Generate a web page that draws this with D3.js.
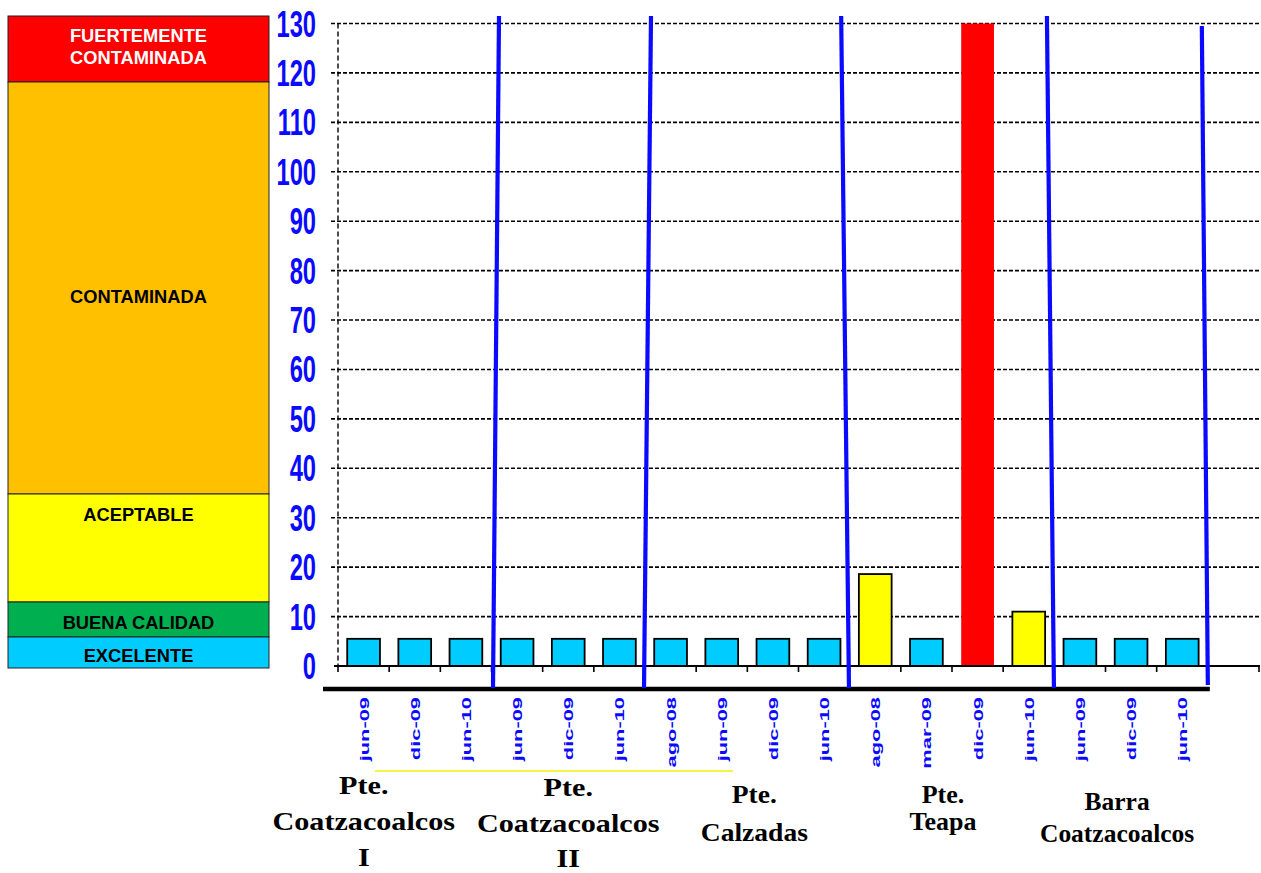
<!DOCTYPE html>
<html>
<head>
<meta charset="utf-8">
<script src="https://cdn.jsdelivr.net/npm/d3@7"></script>
<style>
  html, body { margin: 0; padding: 0; background: #fff; }
  svg { display: block; }
</style>
</head>
<body>
<svg id="chart" width="1261" height="873"></svg>
<script>
// Sampling dates per station, in order along the x axis
const categories = [
  "jun-09", "dic-09", "jun-10",
  "jun-09", "dic-09", "jun-10",
  "ago-08", "jun-09", "dic-09", "jun-10",
  "ago-08", "mar-09", "dic-09", "jun-10",
  "jun-09", "dic-09", "jun-10"
];
// Measured value for each sample
const values = [
  5.5, 5.5, 5.5,
  5.5, 5.5, 5.5,
  5.5, 5.5, 5.5, 5.5,
  18.6, 5.5, 130, 11,
  5.5, 5.5, 5.5
];
// Quality class of each sample (index into qualityLabels)
const sampleClass = [
  0, 0, 0,
  0, 0, 0,
  0, 0, 0, 0,
  2, 0, 4, 2,
  0, 0, 0
];
// Quality scale, from best to worst
const qualityLabels = ["EXCELENTE", "BUENA CALIDAD", "ACEPTABLE", "CONTAMINADA", "FUERTEMENTE CONTAMINADA"];
const qualityColors = ["#00CCFF", "#00B050", "#FFFF00", "#FFC000", "#FF0000"];
// Stations and the number of samples in each
const stationLines = [
  ["Pte.", "Coatzacoalcos", "I"],
  ["Pte.", "Coatzacoalcos", "II"],
  ["Pte.", "Calzadas"],
  ["Pte.", "Teapa"],
  ["Barra", "Coatzacoalcos"]
];
const stationSizes = [3, 3, 4, 4, 3];
const yTicks = [0, 10, 20, 30, 40, 50, 60, 70, 80, 90, 100, 110, 120, 130];

// ---------- layout ----------
const plot = { left: 338, right: 1259, top: 23.5, bottom: 666 };
const slots = categories.length + 1;           // one empty slot at the right end
const blue = "#0A0AFF";

const svg = d3.select("#chart");

const x = d3.scaleBand()
  .domain(d3.range(slots))
  .range([plot.left, plot.right])
  .paddingInner(0.36)
  .paddingOuter(0.18);
const step = x.step();
const edge = i => x(i) - step * 0.18;         // left boundary of slot i

const y = d3.scaleLinear().domain([0, 130]).range([plot.bottom, plot.top]);

// ---------- quality legend panel ----------
const legendBox = { x: 8, w: 261 };
// top/bottom edges of each band, worst class first
const legendEdges = [16, 82, 494, 602, 637, 668];
const legendText = [
  { lines: ["FUERTEMENTE", "CONTAMINADA"], base: [42, 64], fill: "#fff" },
  { lines: ["CONTAMINADA"], base: [303], fill: "#000" },
  { lines: ["ACEPTABLE"], base: [521], fill: "#000" },
  { lines: ["BUENA CALIDAD"], base: [629], fill: "#000" },
  { lines: ["EXCELENTE"], base: [662], fill: "#000" }
];
const legendOrder = d3.range(qualityLabels.length).reverse();
const legend = svg.append("g");
legendOrder.forEach((q, k) => {
  legend.append("rect")
    .attr("x", legendBox.x).attr("y", legendEdges[k])
    .attr("width", legendBox.w).attr("height", legendEdges[k + 1] - legendEdges[k])
    .attr("fill", qualityColors[q]).attr("stroke", "#222").attr("stroke-width", 1);
  legendText[k].lines.forEach((t, j) => {
    legend.append("text")
      .attr("x", legendBox.x + legendBox.w / 2).attr("y", legendText[k].base[j])
      .attr("text-anchor", "middle")
      .attr("font-family", "'Liberation Sans', Arial, sans-serif")
      .attr("font-weight", "bold").attr("font-size", 18.3)
      .attr("fill", legendText[k].fill)
      .text(t);
  });
});

// ---------- grid and axes ----------
const grid = svg.append("g");
grid.selectAll("line.h").data(yTicks).join("line")
  .attr("x1", plot.left - 7).attr("x2", plot.right)
  .attr("y1", d => y(d)).attr("y2", d => y(d))
  .attr("stroke", d => d === 0 ? "none" : "#000")
  .attr("stroke-width", 1.6).attr("stroke-dasharray", "4,2");

grid.append("line")
  .attr("x1", plot.left).attr("x2", plot.left)
  .attr("y1", y(130)).attr("y2", y(0))
  .attr("stroke", "#000").attr("stroke-width", 1.4).attr("stroke-dasharray", "5,3");

// y tick labels: tall condensed blue numerals
svg.append("g").selectAll("text").data(yTicks).join("text")
  .attr("transform", d => `translate(316,${y(d) + 13}) scale(0.64,1)`)
  .attr("text-anchor", "end")
  .attr("font-family", "'Liberation Sans', Arial, sans-serif")
  .attr("font-weight", "bold").attr("font-size", 37)
  .attr("fill", blue)
  .text(d => d);

// ---------- bars ----------
svg.append("g").selectAll("rect").data(values).join("rect")
  .attr("x", (d, i) => x(i))
  .attr("y", d => y(d))
  .attr("width", x.bandwidth())
  .attr("height", d => y(0) - y(d))
  .attr("fill", (d, i) => qualityColors[sampleClass[i]])
  .attr("stroke", (d, i) => sampleClass[i] === 4 ? "none" : "#000")
  .attr("stroke-width", 1.8);

// x axis baseline with boundary ticks
const xAxis = svg.append("g");
xAxis.append("line")
  .attr("x1", plot.left - 4).attr("x2", plot.right + 1)
  .attr("y1", y(0)).attr("y2", y(0))
  .attr("stroke", "#000").attr("stroke-width", 2);
xAxis.selectAll("line.tick").data(d3.range(slots + 1)).join("line")
  .attr("class", "tick")
  .attr("x1", i => i === slots ? plot.right : edge(i))
  .attr("x2", i => i === slots ? plot.right : edge(i))
  .attr("y1", y(0)).attr("y2", y(0) + 6)
  .attr("stroke", "#000").attr("stroke-width", 1.6);

// thick rule beneath the plot
svg.append("line")
  .attr("x1", 323).attr("x2", edge(categories.length) + 2)
  .attr("y1", 689).attr("y2", 689)
  .attr("stroke", "#000").attr("stroke-width", 4.5);

// rotated date labels
svg.append("g").selectAll("text").data(categories).join("text")
  .attr("transform", (d, i) => `translate(${x(i) + x.bandwidth() / 2 + 5},697) rotate(-90) scale(1.62,1)`)
  .attr("text-anchor", "end")
  .attr("font-family", "'Liberation Sans', Arial, sans-serif")
  .attr("font-weight", "bold").attr("font-size", 13.5)
  .attr("fill", blue)
  .text(d => d);

// ---------- station separators ----------
const bounds = d3.cumsum(stationSizes);          // slot index after each station
const separatorLayout = [
  { top: 16, bottom: 688, topShift: 7.5, bottomShift: 1.5 },
  { top: 16, bottom: 688, topShift: 6, bottomShift: -1 },
  { top: 16, bottom: 688, topShift: -8.5, bottomShift: -0.7 },
  { top: 16, bottom: 688, topShift: -7.4, bottomShift: -0.4 },
  { top: 26, bottom: 685, topShift: -6, bottomShift: 0 }
];
svg.append("g").selectAll("line").data(bounds).join("line")
  .attr("x1", (b, k) => edge(b) + separatorLayout[k].topShift)
  .attr("y1", (b, k) => separatorLayout[k].top)
  .attr("x2", (b, k) => edge(b) + separatorLayout[k].bottomShift)
  .attr("y2", (b, k) => separatorLayout[k].bottom)
  .attr("stroke", blue).attr("stroke-width", 4.2);

// thin yellow underline below the first dates
svg.append("line")
  .attr("x1", 375).attr("x2", 733).attr("y1", 771).attr("y2", 771)
  .attr("stroke", "#F2F200").attr("stroke-width", 1.5);

// ---------- station names ----------
const starts = [0, ...bounds.slice(0, -1)];
const stationLayout = [
  { dx: -51, base: 794, gap: 36, stretch: 1.16 },
  { dx: 0, base: 796, gap: 35.5, stretch: 1.16 },
  { dx: 7, base: 803, gap: 38, stretch: 1.06 },
  { dx: -9, base: 803, gap: 27, stretch: 1.0 },
  { dx: -14, base: 810, gap: 32, stretch: 0.98 }
];
const names = svg.append("g");
stationLines.forEach((lines, k) => {
  const cx = (edge(starts[k]) + edge(bounds[k])) / 2 + stationLayout[k].dx;
  lines.forEach((t, j) => {
    names.append("text")
      .attr("transform", `translate(${cx},${stationLayout[k].base + j * stationLayout[k].gap}) scale(${stationLayout[k].stretch},1)`)
      .attr("text-anchor", "middle")
      .attr("font-family", "'Liberation Serif', 'Times New Roman', serif")
      .attr("font-weight", "bold").attr("font-size", 26)
      .attr("fill", "#000")
      .text(t);
  });
});
</script>
</body>
</html>
